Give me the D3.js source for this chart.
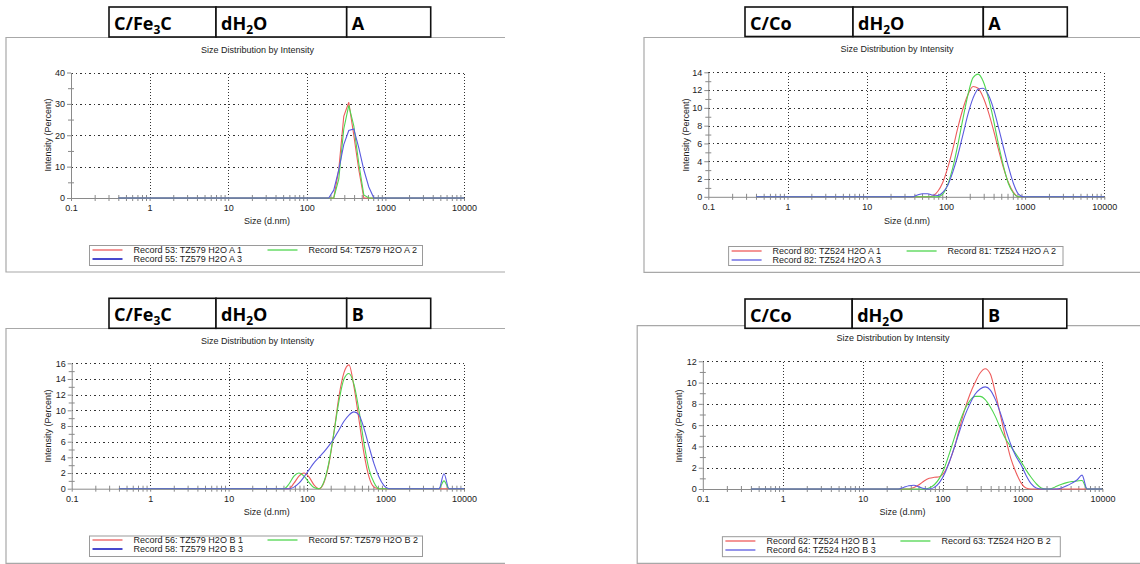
<!DOCTYPE html>
<html><head><meta charset="utf-8">
<script src="https://cdn.jsdelivr.net/npm/d3@7"></script>
<style>
body{margin:0;background:#fff}
svg{display:block}
text{font-family:Arial,"Liberation Sans",sans-serif;fill:#222}
</style>
</head><body>
<svg id="c" width="1140" height="564"></svg>
<script>
// ---------------- DATA ----------------
const xTickValues = [0.1, 1, 10, 100, 1000, 10000];
const xTickLabels = ["0.1", "1", "10", "100", "1000", "10000"];
const chartTitle = "Size Distribution by Intensity";
const xAxisTitle = "Size (d.nm)";
const yAxisTitle = "Intensity (Percent)";

// header cells: [text, isSubscript] segments
const hdrFe3cA = [[["C/Fe",0],["3",1],["C",0]], [["dH",0],["2",1],["O",0]], [["A",0]]];
const hdrCoA   = [[["C/Co",0]], [["dH",0],["2",1],["O",0]], [["A",0]]];
const hdrFe3cB = [[["C/Fe",0],["3",1],["C",0]], [["dH",0],["2",1],["O",0]], [["B",0]]];
const hdrCoB   = [[["C/Co",0]], [["dH",0],["2",1],["O",0]], [["B",0]]];

const legFe3cA = ["Record 53: TZ579 H2O A 1", "Record 54: TZ579 H2O A 2", "Record 55: TZ579 H2O A 3"];
const legCoA   = ["Record 80: TZ524 H2O A 1", "Record 81: TZ524 H2O A 2", "Record 82: TZ524 H2O A 3"];
const legFe3cB = ["Record 56: TZ579 H2O B 1", "Record 57: TZ579 H2O B 2", "Record 58: TZ579 H2O B 3"];
const legCoB   = ["Record 62: TZ524 H2O B 1", "Record 63: TZ524 H2O B 2", "Record 64: TZ524 H2O B 3"];

// series: [size nm, intensity %]
const rec53 = [[0.4,0],[220.2,0],[255,9],[295.3,26],[342,30.5],[396.1,20],[458.7,9],[531.2,0],[10000,0]];
const rec54 = [[0.4,0],[220.2,0],[255,6],[295.3,22],[342,29.5],[396.1,23],[458.7,11],[531.2,1],[615.1,0],[10000,0]];
const rec55 = [[0.4,0],[190.1,0],[220.2,2.5],[255,9],[295.3,17],[342,21.5],[396.1,22],[458.7,16],[531.2,9],[615.1,3.5],[712.4,0],[10000,0]];

const rec80 = [[0.4,0],[58.77,0],[68.06,0.1],[78.82,0.6],[91.28,1.6],[105.7,3.3],[122.4,5.4],[141.8,7.8],[164.2,9.9],[190.1,11.5],[220.2,12.4],[255,12.2],[295.3,11.2],[342,9.6],[396.1,7.6],[458.7,5.4],[531.2,3.3],[615.1,1.6],[712.4,0.5],[825,0],[10000,0]];
const rec81 = [[0.4,0],[78.82,0],[91.28,0.3],[105.7,1.4],[122.4,3.3],[141.8,5.9],[164.2,8.8],[190.1,11.5],[220.2,13.4],[255,13.8],[295.3,13.0],[342,11.2],[396.1,8.8],[458.7,6.0],[531.2,3.5],[615.1,1.5],[712.4,0.4],[825,0],[10000,0]];
const rec82 = [[0.4,0],[37.84,0],[43.82,0.2],[50.75,0.35],[58.77,0.35],[68.06,0.2],[78.82,0.15],[91.28,0.5],[105.7,1.3],[122.4,2.8],[141.8,4.7],[164.2,7.0],[190.1,9.3],[220.2,11.1],[255,12.1],[295.3,12.2],[342,11.5],[396.1,10.0],[458.7,7.9],[531.2,5.6],[615.1,3.4],[712.4,1.5],[825,0.3],[955.4,0],[10000,0]];

const rec56 = [[0.4,0],[58.77,0],[68.06,0.7],[78.82,1.6],[91.28,2.0],[105.7,1.5],[122.4,0.5],[141.8,0],[164.2,0.8],[190.1,3.2],[220.2,7.2],[255,11.8],[295.3,14.8],[342,15.8],[396.1,13.0],[458.7,8.8],[531.2,4.5],[615.1,1.5],[712.4,0.2],[825,0],[10000,0]];
const rec57 = [[0.4,0],[50.75,0],[58.77,0.6],[68.06,1.6],[78.82,2.0],[91.28,1.6],[105.7,0.8],[122.4,0.15],[141.8,0],[164.2,0.9],[190.1,3.4],[220.2,7.2],[255,11.2],[295.3,14.0],[342,14.7],[396.1,13.3],[458.7,10.0],[531.2,5.8],[615.1,2.5],[712.4,0.8],[825,0],[4801,0],[5560,1.0],[6439,0],[10000,0]];
const rec58 = [[0.4,0],[58.77,0],[68.06,0.2],[78.82,0.7],[91.28,1.5],[105.7,2.4],[122.4,3.3],[141.8,4.0],[164.2,4.7],[190.1,5.5],[220.2,6.4],[255,7.5],[295.3,8.6],[342,9.4],[396.1,9.8],[458.7,9.4],[531.2,7.7],[615.1,5.4],[712.4,3.2],[825,1.5],[955.4,0.4],[1106,0],[4801,0],[5560,1.9],[6439,0],[10000,0]];

const rec62 = [[0.4,0],[37.84,0],[43.82,0.15],[50.75,0.4],[58.77,0.75],[68.06,1.0],[78.82,1.1],[91.28,1.15],[105.7,1.6],[122.4,2.6],[141.8,4.0],[164.2,5.8],[190.1,7.5],[220.2,8.9],[255,10.0],[295.3,10.9],[342,11.3],[396.1,10.8],[458.7,9.0],[531.2,6.9],[615.1,4.8],[712.4,2.9],[825,1.6],[955.4,0.6],[1106,0.1],[1281,0],[10000,0]];
const rec63 = [[0.4,0],[58.77,0],[68.06,0.1],[78.82,0.4],[91.28,1.0],[105.7,2.0],[122.4,3.4],[141.8,4.9],[164.2,6.3],[190.1,7.5],[220.2,8.3],[255,8.7],[295.3,8.7],[342,8.4],[396.1,7.7],[458.7,6.8],[531.2,5.7],[615.1,4.7],[712.4,4.0],[825,3.3],[955.4,2.6],[1106,1.8],[1281,1.1],[1484,0.5],[1718,0.1],[1990,0],[2305,0.05],[2669,0.25],[3091,0.45],[3580,0.6],[4145,0.7],[4801,0.75],[5560,0.8],[6439,0],[10000,0]];
const rec64 = [[0.4,0],[28.21,0],[32.67,0.15],[37.84,0.3],[43.82,0.35],[50.75,0.2],[58.77,0.05],[68.06,0],[78.82,0.15],[91.28,0.6],[105.7,1.4],[122.4,2.6],[141.8,4.0],[164.2,5.5],[190.1,6.9],[220.2,8.0],[255,8.9],[295.3,9.4],[342,9.6],[396.1,9.3],[458.7,8.4],[531.2,7.1],[615.1,5.6],[712.4,4.2],[825,3.1],[955.4,2.3],[1106,1.3],[1281,0.5],[1484,0.1],[1718,0],[2669,0],[3091,0.1],[3580,0.3],[4145,0.55],[4801,0.85],[5560,1.3],[6439,0],[10000,0]];

const seriesColors = ["#ee5c5c", "#4fd64f", "#5a5ae0"];

// ---------------- LAYOUT ----------------
const panels = [
  { header: hdrFe3cA, legend: legFe3cA, series: [rec53, rec54, rec55], yMax: 40, yStep: 10, curve: "linear", darkBlue: true,
    hdr: {x: 109, y: 7, w: [107, 130.7, 84], h: 30},
    box: {x: 6, y: 37.5, x2: 505, y2: 272},
    plot: {x0: 71, x1: 464, y0: 198, y1: 72.5},
    title: {x: 257.5, y: 50}, xlab: {x: 267, y: 221}, ylab: {x: 48, y: 135},
    leg: {x: 89.5, y: 245.5, w: 333, h: 20} },
  { header: hdrCoA, legend: legCoA, series: [rec80, rec81, rec82], yMax: 14, yStep: 2, curve: "smooth", darkBlue: false,
    hdr: {x: 745, y: 7, w: [108, 130.3, 84], h: 29.5},
    box: {x: 644, y: 37.5, x2: 1141, y2: 272.3},
    plot: {x0: 708.3, x1: 1104.3, y0: 196.8, y1: 72.3},
    title: {x: 897, y: 49}, xlab: {x: 907, y: 220.7}, ylab: {x: 685.5, y: 135},
    leg: {x: 728.6, y: 246.5, w: 334.4, h: 19} },
  { header: hdrFe3cB, legend: legFe3cB, series: [rec56, rec57, rec58], yMax: 16, yStep: 2, curve: "smooth", darkBlue: true,
    hdr: {x: 109, y: 298.3, w: [107, 130.7, 84], h: 30},
    box: {x: 6, y: 328.5, x2: 505, y2: 563.3},
    plot: {x0: 71.7, x1: 464, y0: 488.7, y1: 363.3},
    title: {x: 257.5, y: 341}, xlab: {x: 266.7, y: 511.7}, ylab: {x: 48, y: 426},
    leg: {x: 89.5, y: 536, w: 333, h: 20.5} },
  { header: hdrCoB, legend: legCoB, series: [rec62, rec63, rec64], yMax: 12, yStep: 2, curve: "smooth", darkBlue: false,
    hdr: {x: 745, y: 299, w: [107.2, 130.8, 83.8], h: 29.3},
    box: {x: 637.2, y: 325.7, x2: 1141, y2: 563.3},
    plot: {x0: 702.8, x1: 1102.4, y0: 489, y1: 361.3},
    title: {x: 893, y: 338.3}, xlab: {x: 902.4, y: 511.7}, ylab: {x: 679.3, y: 426},
    leg: {x: 722.4, y: 536.7, w: 337.9, h: 20} }
];

// ---------------- DRAW ----------------
const svg = d3.select("#c");

function minorLogTicks() {
  const out = [];
  for (let e = -1; e < 4; e++) for (let k = 2; k <= 9; k++) out.push(k * Math.pow(10, e));
  return out;
}

panels.forEach(p => {
  const g = svg.append("g");
  const P = p.plot;

  // panel frame (open on the right)
  g.append("path")
    .attr("d", `M${p.box.x2},${p.box.y}H${p.box.x}V${p.box.y2}H${p.box.x2}`)
    .attr("fill", "none").attr("stroke", "#a8a8a8").attr("stroke-width", 1.2);

  // header table
  let cx = p.hdr.x;
  p.header.forEach((cell, i) => {
    const w = p.hdr.w[i];
    g.append("rect").attr("x", cx).attr("y", p.hdr.y).attr("width", w).attr("height", p.hdr.h)
      .attr("fill", "#fff").attr("stroke", "#111").attr("stroke-width", 1.6);
    const t = g.append("text").attr("x", cx + 5).attr("y", p.hdr.y + 23)
      .style("font-family", "'Open Sans','Noto Sans',sans-serif").style("font-weight", 700)
      .style("font-size", "18px").style("fill", "#000");
    let sub = false;
    cell.forEach(([s, isSub]) => {
      const ts = t.append("tspan").text(s);
      if (isSub && !sub) { ts.attr("dy", 4).style("font-size", "12px"); sub = true; }
      else if (!isSub && sub) { ts.attr("dy", -4); sub = false; }
    });
    cx += w;
  });

  const x = d3.scaleLog().domain([0.1, 10000]).range([P.x0, P.x1]);
  const y = d3.scaleLinear().domain([0, p.yMax]).range([P.y0, P.y1]);
  const yMajor = d3.range(0, p.yMax + 0.001, p.yStep);
  const yMinor = d3.range(p.yStep / 2, p.yMax, p.yStep);

  // title & axis titles
  g.append("text").attr("x", p.title.x).attr("y", p.title.y).attr("dy", "0.35em")
    .attr("text-anchor", "middle").style("font-size", "9px").text(chartTitle);
  g.append("text").attr("x", p.xlab.x).attr("y", p.xlab.y).attr("dy", "0.35em")
    .attr("text-anchor", "middle").style("font-size", "9px").text(xAxisTitle);
  g.append("text").attr("transform", `translate(${p.ylab.x},${p.ylab.y}) rotate(-90)`).attr("dy", "0.35em")
    .attr("text-anchor", "middle").style("font-size", "9px").text(yAxisTitle);

  // dotted grid
  const grid = g.append("g").attr("stroke", "#333").attr("stroke-width", 1).attr("shape-rendering", "crispEdges");
  grid.selectAll("line.v").data(xTickValues.slice(1)).join("line").attr("class", "v")
    .attr("x1", d => Math.round(x(d)) + 0.5).attr("x2", d => Math.round(x(d)) + 0.5)
    .attr("y1", P.y0).attr("y2", P.y1).attr("stroke-dasharray", "1,2");
  grid.selectAll("line.h").data(yMajor.slice(1)).join("line").attr("class", "h")
    .attr("y1", d => Math.round(y(d)) + 0.5).attr("y2", d => Math.round(y(d)) + 0.5)
    .attr("x1", P.x0).attr("x2", P.x1).attr("stroke-dasharray", "1.5,3");

  // axes
  const axX = g.append("g").attr("transform", `translate(0,${P.y0})`)
    .call(d3.axisBottom(x).tickValues(xTickValues).tickFormat((d, i) => xTickLabels[i]).tickSize(3).tickSizeOuter(0).tickPadding(4));
  const axXm = g.append("g").attr("transform", `translate(0,${P.y0 - 3})`)
    .call(d3.axisBottom(x).tickValues(minorLogTicks()).tickFormat("").tickSize(6).tickSizeOuter(0));
  axXm.select(".domain").remove();
  const axY = g.append("g").attr("transform", `translate(${P.x0},0)`)
    .call(d3.axisLeft(y).tickValues(yMajor).tickSize(4).tickSizeOuter(0).tickPadding(2));
  const axYm = g.append("g").attr("transform", `translate(${P.x0 + 3},0)`)
    .call(d3.axisLeft(y).tickValues(yMinor).tickFormat("").tickSize(6).tickSizeOuter(0));
  axYm.select(".domain").remove();
  [axX, axXm, axY, axYm].forEach(a => {
    a.selectAll("path,line").attr("stroke", "#8a8a8a");
    a.selectAll("text").style("font-size", "9px").style("font-family", "Arial,'Liberation Sans',sans-serif").attr("fill", "#222");
  });

  // series
  const line = d3.line().x(d => x(d[0])).y(d => y(d[1]))
    .curve(p.curve === "linear" ? d3.curveLinear : d3.curveMonotoneX);
  p.series.forEach((s, i) => {
    g.append("path").datum(s).attr("d", line).attr("fill", "none")
      .style("stroke", seriesColors[i]).attr("stroke-width", 1.1);
  });

  // legend
  const L = p.leg;
  const lg = g.append("g");
  lg.append("rect").attr("x", L.x).attr("y", L.y).attr("width", L.w).attr("height", L.h)
    .attr("fill", "#fff").style("stroke", "#9a9a9a").attr("stroke-width", 1);
  const pos = [[0, 0], [1, 0], [0, 1]];
  p.legend.forEach((lab, i) => {
    const lx = L.x + (pos[i][0] ? 178 : 3);
    const ly = Math.round(L.y + 4 + pos[i][1] * 9);
    const isBlueDark = (i === 2 && p.darkBlue);
    lg.append("line").attr("x1", lx).attr("x2", lx + 30).attr("y1", ly).attr("y2", ly)
      .style("stroke", isBlueDark ? "#3535c8" : seriesColors[i]).style("stroke-width", isBlueDark ? 1.8 : 1.3);
    lg.append("text").attr("x", L.x + (pos[i][0] ? 219 : 44)).attr("y", ly).attr("dy", "0.35em")
      .style("font-size", "9px").text(lab);
  });
});
</script>
</body></html>
